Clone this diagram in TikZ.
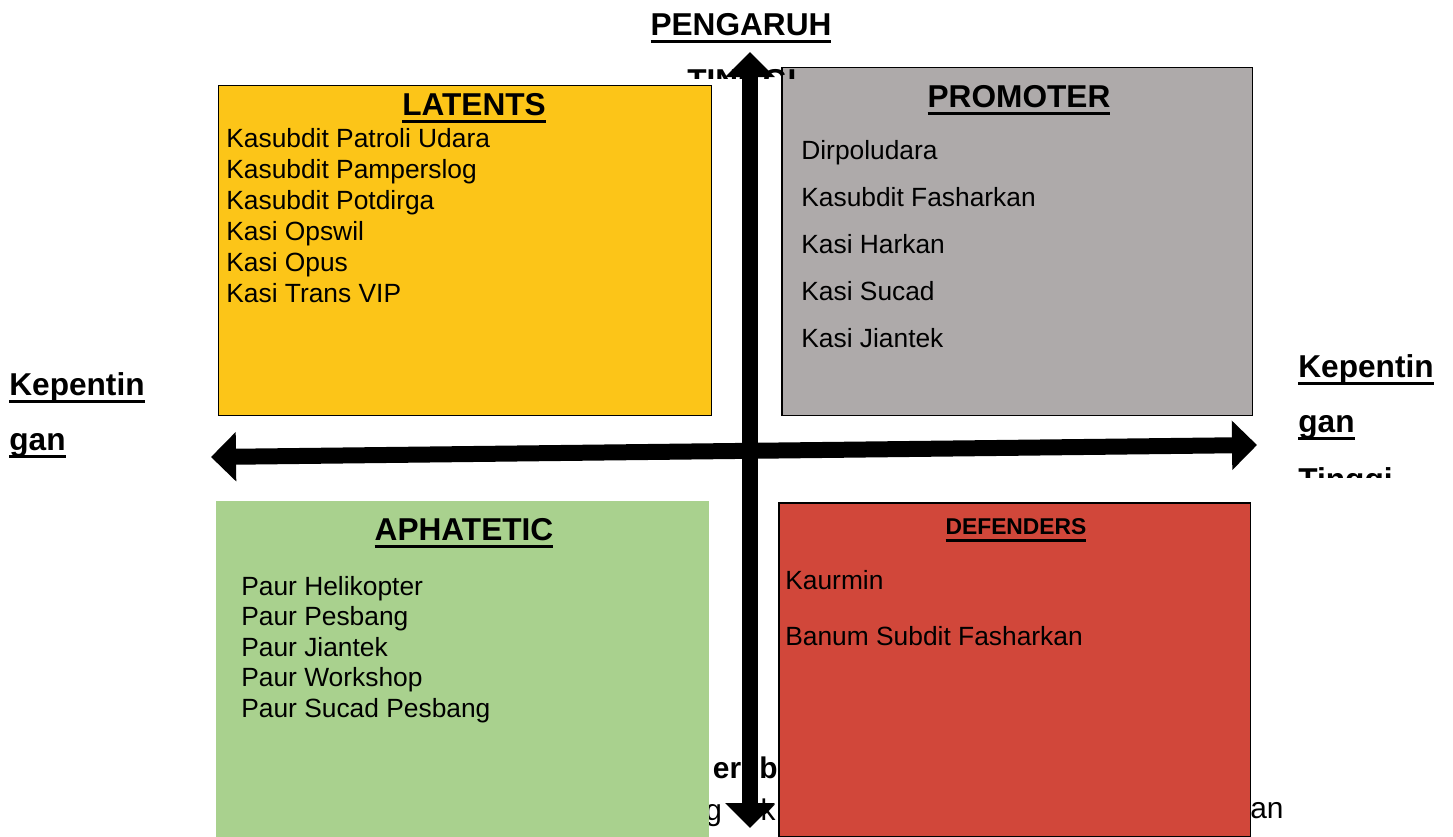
\documentclass[tikz,border=0pt]{standalone}
\usepackage{fontspec}
\setmainfont{Liberation Sans}
\usetikzlibrary{arrows.meta,positioning}
\definecolor{qLatent}{RGB}{252,197,24}
\definecolor{qPromoter}{RGB}{174,170,170}
\definecolor{qApathetic}{RGB}{169,209,142}
\definecolor{qDefender}{RGB}{209,71,58}
\newsavebox{\ulsave}
\newcommand{\ulword}[1]{\sbox{\ulsave}{#1}\rlap{\rule[-4.5pt]{\wd\ulsave}{1.6pt}}\usebox{\ulsave}}
\tikzset{
  qbox/.style={
    rectangle, draw=black, line width=0.85pt,
    anchor=north west, inner sep=0pt
  },
  qtitle/.style={anchor=base, inner sep=0pt, font=\fontsize{18}{21}\selectfont\bfseries},
  qitem/.style={anchor=base west, inner sep=0pt, font=\fontsize{15}{18}\selectfont},
  lowtext/.style={anchor=base west, inner sep=0pt, font=\fontsize{17}{20}\selectfont},
  axislabel/.style={anchor=base west, inner sep=0pt, font=\fontsize{18}{21}\selectfont\bfseries},
  axisarrow/.style={
    line width=0.32cm,
    {Triangle[length=0.5cm,width=0.96cm]}-{Triangle[length=0.5cm,width=0.96cm]}
  }
}

\begin{document}
\begin{tikzpicture}[x=0.02cm,y=-0.02cm]
  \useasboundingbox (0,0) rectangle (1453,836);

  % text lying under the lower boxes
  \node[lowtext, anchor=base east, font=\fontsize{17}{20}\selectfont\bfseries] (lowa) at (778,778) {erub};
  \node[lowtext] (lowb) at (705,820) {g};
  \node[lowtext, anchor=base east] (lowc) at (776,820) {k};
  \node[lowtext] (lowd) at (1250,818) {an};

  % quadrants
  \node[qbox, fill=qLatent, minimum width=9.86cm, minimum height=6.6cm] (latents) at (218,85) {};
  \node[qbox, fill=qPromoter, minimum width=9.42cm, minimum height=6.96cm] (promoter) at (781,67) {};
  \node[qbox, draw=none, fill=qApathetic, minimum width=9.86cm, minimum height=6.72cm] (aphatetic) at (215,500) {};
  \node[qbox, fill=qDefender, minimum width=9.44cm, minimum height=6.68cm] (defenders) at (778,502) {};

  \node[qtitle] (latt) at (474,115) {\ulword{LATENTS}};
  \foreach \t [count=\i] in {Kasubdit Patroli Udara, Kasubdit Pamperslog,
      Kasubdit Potdirga, Kasi Opswil, Kasi Opus, Kasi Trans VIP}
    \node[qitem] (lat\i) at (226,{147+31*(\i-1)}) {\t};

  \node[qtitle] (prot) at (1019,107) {\ulword{PROMOTER}};
  \foreach \t [count=\i] in {Dirpoludara, Kasubdit Fasharkan, Kasi Harkan,
      Kasi Sucad, Kasi Jiantek}
    \node[qitem] (pro\i) at (801,{159+47*(\i-1)}) {\t};

  \node[qtitle] (apt) at (464,540) {\ulword{APHATETIC}};
  \foreach \t [count=\i] in {Paur Helikopter, Paur Pesbang, Paur Jiantek,
      Paur Workshop, Paur Sucad Pesbang}
    \node[qitem] (ap\i) at (241,{595+30.5*(\i-1)}) {\t};

  \node[qtitle, font=\fontsize{13}{16}\selectfont\bfseries] (deft) at (1016,534) {\ulword{DEFENDERS}};
  \node[qitem] (def1) at (785,589) {Kaurmin};
  \node[qitem] (def2) at (785,645) {Banum Subdit Fasharkan};

  % axis labels
  \node[qtitle] (pengaruh) at (741,35) {\ulword{PENGARUH}};
  \begin{scope}
    \clip (650,60) rectangle (830,78);
    \node[axislabel] (tinggiv) at (687,91) {TINGGI};
  \end{scope}
  \node[axislabel] (kepl) at (9,395) {\ulword{Kepentin}};
  \node[axislabel] (kepl2) at (9,450) {\ulword{gan}};
  \node[axislabel] (kepr) at (1298,377) {\ulword{Kepentin}};
  \node[axislabel] (kepr2) at (1298,432) {\ulword{gan}};
  \begin{scope}
    \clip (1290,460) rectangle (1453,477);
    \node[axislabel] (tinggih) at (1298,490) {Tinggi};
  \end{scope}

  % axes
  \coordinate (vtop) at (750,52);
  \coordinate (vbot) at (750,828);
  \coordinate (hleft) at (211,457);
  \coordinate (hright) at (1257,445);
  \draw[axisarrow] (vtop) -- (vbot);
  \draw[axisarrow] (hleft) -- (hright);
\end{tikzpicture}
\end{document}
